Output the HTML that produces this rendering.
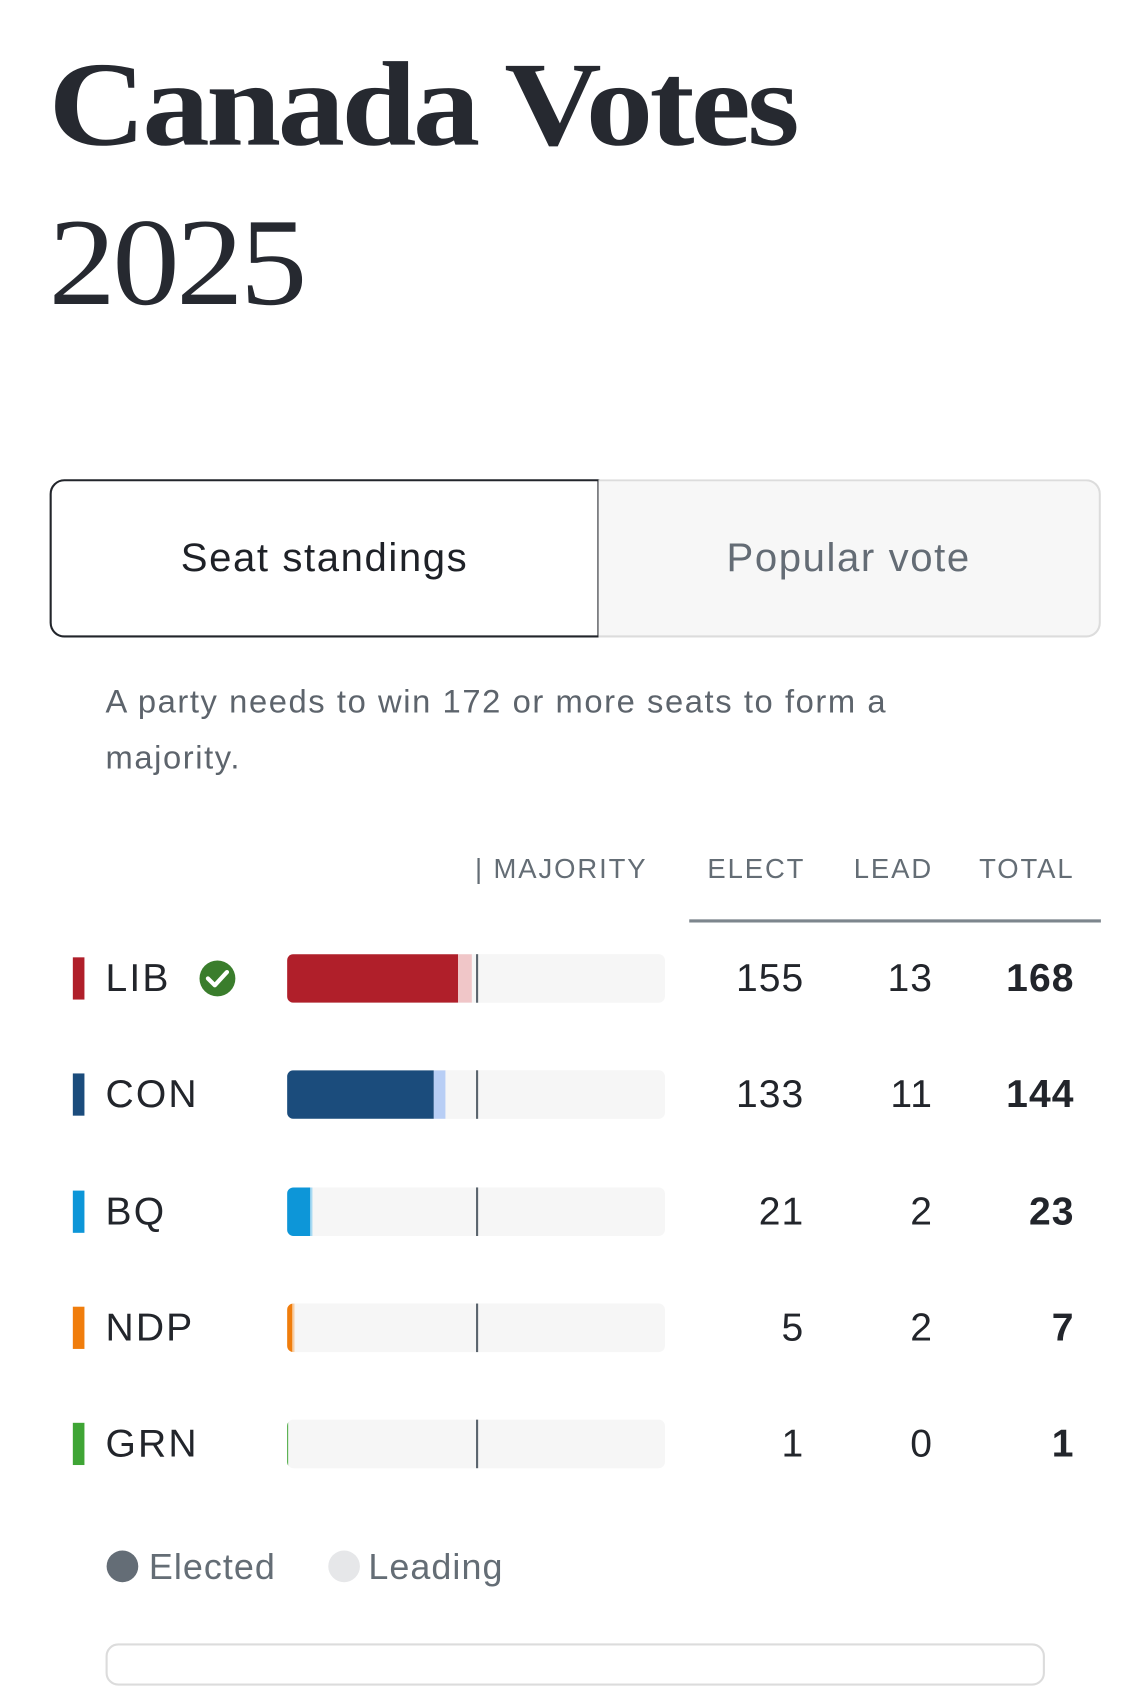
<!DOCTYPE html>
<html><head><meta charset="utf-8">
<style>
html,body{margin:0;padding:0;background:#fff;}
body{width:1125px;height:1619px;overflow:hidden;position:relative;}
#wrap{position:absolute;left:0;top:0;width:1085px;height:1561px;transform:scale(1.0555);transform-origin:0 0;font-family:"Liberation Sans",sans-serif;}
.abs{position:absolute;}
#title{left:46px;top:42px;font-family:"Liberation Serif",serif;font-weight:bold;font-size:114px;letter-spacing:-3px;color:#262930;line-height:1;transform:scaleX(1.12);transform-origin:0 0;white-space:nowrap;}
#year{left:46px;top:190px;font-family:"Liberation Serif",serif;font-size:118px;color:#262930;line-height:1;letter-spacing:-3px;transform:scaleX(1.08);transform-origin:0 0;}
.tab{top:454px;height:150px;box-sizing:border-box;display:flex;align-items:center;justify-content:center;font-size:38px;letter-spacing:1.5px;}
#tab1{left:47px;width:521px;border:2px solid #22252b;border-radius:14px 0 0 14px;color:#1e2127;background:#fff;}
#tab2{left:567px;width:476px;border:2px solid #dcdcdc;border-left:none;border-radius:0 14px 14px 0;color:#646c75;background:#f7f7f7;}
#desc{left:100px;top:638px;font-size:31px;letter-spacing:1.5px;line-height:53px;color:#5d646c;width:800px;}
.hdr{top:808px;font-size:26px;letter-spacing:1.8px;color:#646d75;}
#hline{left:653px;top:871px;width:390px;height:3px;background:#7d868d;}
.acc{width:11px;height:40px;}
.lab{font-size:37px;color:#22252b;line-height:1;letter-spacing:2px;}
.bg{height:46px;border-radius:6px;background:#f6f6f6;overflow:hidden;}
.num{font-size:37px;color:#22252b;text-align:right;width:120px;line-height:1;letter-spacing:1px;}
</style></head><body>
<div id="wrap">
<div id="title" class="abs">Canada Votes</div>
<div id="year" class="abs">2025</div>
<div id="tab1" class="abs tab">Seat standings</div>
<div id="tab2" class="abs tab">Popular vote</div>
<div id="desc" class="abs">A party needs to win 172 or more seats to form a majority.</div>
<div class="abs hdr" style="left:450px">| MAJORITY</div>
<div class="abs hdr" style="left:643px;width:120px;text-align:right">ELECT</div>
<div class="abs hdr" style="left:764px;width:120px;text-align:right">LEAD</div>
<div class="abs hdr" style="left:898px;width:120px;text-align:right">TOTAL</div>
<div id="hline" class="abs"></div>
<div class="abs" style="left:101px;top:1469px;width:30px;height:30px;border-radius:50%;background:#646d76"></div>
<div class="abs" style="left:141px;top:1466px;font-size:34px;letter-spacing:1px;color:#646d75">Elected</div>
<div class="abs" style="left:311px;top:1469px;width:30px;height:30px;border-radius:50%;background:#e6e7e9"></div>
<div class="abs" style="left:349px;top:1466px;font-size:34px;letter-spacing:1px;color:#646d75">Leading</div>
<div class="abs" style="left:100px;top:1557px;width:890px;height:40px;border:2px solid #dcdcdc;border-radius:12px;box-sizing:border-box"></div>
</div>
<script>
const parties=["LIB","CON","BQ","NDP","GRN"];
const elected=[155,133,21,5,1];
const leading=[13,11,2,2,0];
const totalSeats=343;
const majority=172;
const colors=["#b01f2a","#1b4c7c","#0d96d8","#f07d0c","#3fa535"];
const light=["#f0c6c8","#b8cef5","#a8daf3","#f8cfa6","#bfe3bb"];
const rows=document.getElementById('wrap');
const barX=272,barW=358,rowY0=927,rowStep=110.25;
const sx=v=>v/totalSeats*barW;
function mk(cls,style){const d=document.createElement('div');d.className='abs '+cls;d.style.cssText=style;rows.appendChild(d);return d;}
parties.forEach((p,i)=>{
  const cy=rowY0+i*rowStep;
  const a=mk('acc',`left:69px;top:${cy-20}px;background:${colors[i]}`);
  
  
  const l=mk('lab',`left:100px;top:${cy-19}px`);l.textContent=p;
  
  
  const bg=mk('bg',`left:${barX}px;top:${cy-23}px;width:${barW}px`);
  
  
  const e=document.createElement('div');e.style.cssText=`position:absolute;left:0;top:0;height:46px;width:${sx(elected[i])}px;background:${colors[i]}`;bg.appendChild(e);
  
  
  const ld=document.createElement('div');ld.style.cssText=`position:absolute;left:${sx(elected[i])}px;top:0;height:46px;width:${sx(leading[i])}px;background:${light[i]}`;bg.appendChild(ld);
  
  
  const m=mk('',`left:${barX+sx(majority)-1}px;top:${cy-23}px;width:2px;height:46px;background:#5a646d`);
  
  
  const vals=[elected[i],leading[i],elected[i]+leading[i]];
  const rights=[762,884,1018];
  const nm=['elect-value','lead-value','total-value'];
  vals.forEach((v,j)=>{
    const n=mk('num',`left:${rights[j]-120}px;top:${cy-19}px;${j==2?'font-weight:bold;':''}`);
    n.textContent=v;
    
    
  });
  if(elected[i]+leading[i]>=Math.max(...elected.map((x,k)=>x+leading[k]))){
    const c=document.createElementNS('http://www.w3.org/2000/svg','svg');
    c.setAttribute('width','36');c.setAttribute('height','36');
    c.style.cssText=`position:absolute;left:188px;top:${cy-18}px`;
    c.innerHTML='<circle cx="18" cy="18" r="17" fill="#3a7d2c"/><path d="M9 18 L15.5 24.5 L27 12" stroke="#fff" stroke-width="4" fill="none" stroke-linecap="round" stroke-linejoin="round"/>';
    
    
    rows.appendChild(c);
  }
});
</script>
</body></html>
